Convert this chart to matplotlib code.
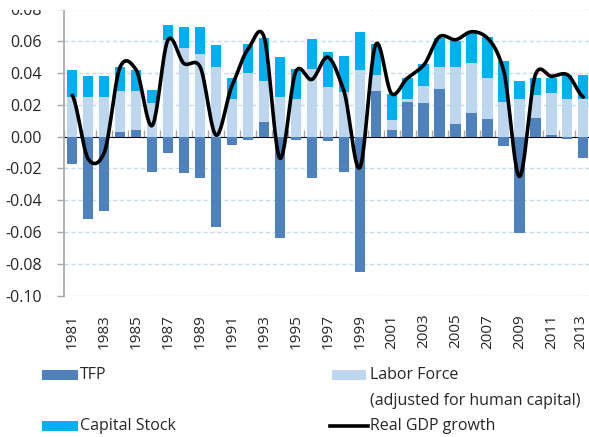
import numpy as np
import matplotlib
matplotlib.use('Agg')
import matplotlib.pyplot as plt
from matplotlib.patches import Rectangle
from matplotlib.lines import Line2D
from matplotlib.transforms import ScaledTranslation

plt.rcParams['font.family'] = ['Open Sans', 'DejaVu Sans']

# Datos
years = list(range(1981, 2014))
tfp = [-0.017, -0.052, -0.047, 0.003, 0.004, -0.022, -0.010, -0.023, -0.026, -0.057,
       -0.005, -0.002, 0.0095, -0.0636, -0.002, -0.026, -0.003, -0.022, -0.085, 0.029,
       0.004, 0.022, 0.021, 0.030, 0.0078, 0.0152, 0.011, -0.006, -0.0606, 0.0116,
       0.001, -0.0015, -0.0137]
labor = [0.025, 0.025, 0.025, 0.026, 0.025, 0.021, 0.061, 0.056, 0.052, 0.0436,
         0.024, 0.040, 0.0257, 0.025, 0.024, 0.0425, 0.031, 0.028, 0.042, 0.010,
         0.0068, 0.0017, 0.0106, 0.0137, 0.0358, 0.0313, 0.0258, 0.0221, 0.0238, 0.0147,
         0.0264, 0.0236, 0.0236]
capital = [0.017, 0.013, 0.013, 0.015, 0.013, 0.0085, 0.009, 0.013, 0.017, 0.0143,
           0.013, 0.0185, 0.027, 0.025, 0.0187, 0.019, 0.022, 0.023, 0.0236, 0.019,
           0.016, 0.013, 0.0141, 0.0185, 0.0164, 0.0188, 0.0259, 0.0253, 0.0114, 0.0105,
           0.0094, 0.0154, 0.0154]
gdp = [0.026, -0.014, -0.010, 0.044, 0.042, 0.007, 0.061, 0.046, 0.044, 0.001,
       0.032, 0.055, 0.063, -0.0135, 0.041, 0.036, 0.050, 0.029, -0.0195, 0.058,
       0.027, 0.037, 0.045, 0.063, 0.061, 0.066, 0.062, 0.042, -0.025, 0.039,
       0.038, 0.039, 0.025]

c_tfp = '#4F81BD'
c_lab = '#BDD7EE'
c_cap = '#00B0F0'
txt = '#262626'
fs = 11.5


def smooth(x, y, n=24, k=0.8):
    # curva suavizada tipo Catmull-Rom (como la linea suavizada de Excel)
    p = np.asarray(y, dtype=float)
    ext = np.concatenate([[p[0]], p, [p[-1]]])
    xs, ys = [], []
    for i in range(len(p) - 1):
        p0, p1, p2, p3 = ext[i:i + 4]
        t = np.linspace(0, 1, n, endpoint=False)
        m1 = k * (p2 - p0) / 2
        m2 = k * (p3 - p1) / 2
        h = ((2*t**3 - 3*t**2 + 1) * p1 + (t**3 - 2*t**2 + t) * m1
             + (-2*t**3 + 3*t**2) * p2 + (t**3 - t**2) * m2)
        xs.append(x[i] + t * (x[i + 1] - x[i]))
        ys.append(h)
    xs.append([x[-1]])
    ys.append([p[-1]])
    return np.concatenate(xs), np.concatenate(ys)


W, H = 589, 437
fig = plt.figure(figsize=(W / 100, H / 100), dpi=100)
ax = fig.add_axes([64.3 / W, (H - 295.7) / H, 527 / W, (295.7 - 9.5) / H])

x = np.arange(len(years))
tfp_a = np.array(tfp)
lab_a = np.array(labor)
cap_a = np.array(capital)
pos = np.clip(tfp_a, 0, None)
bw = 0.645

ax.bar(x, tfp_a, bw, color=c_tfp, zorder=2)
ax.bar(x, lab_a, bw, bottom=pos, color=c_lab, zorder=2)
ax.bar(x, cap_a, bw, bottom=pos + lab_a, color=c_cap, zorder=2)

sx, sy = smooth(x, gdp)
ax.plot(sx, sy, color='black', lw=2.6, zorder=4, solid_capstyle='round')

ax.set_xlim(-0.5, len(years) - 0.5)
ax.set_ylim(-0.10, 0.08)
yt = np.arange(-0.10, 0.081, 0.02)
ax.set_yticks(yt)
ax.set_yticklabels(['%.2f' % v for v in yt])
for v in yt:
    if abs(v) > 1e-9:
        ax.axhline(v, color='#C6D9EE', lw=1.0, ls=(0, (3, 2)), zorder=1)

ax.set_xticks(x[::2])
ax.set_xticklabels([str(y) for y in years[::2]], rotation=90)
ax.tick_params(axis='x', length=0, pad=13, labelsize=11, labelcolor=txt)
ax.tick_params(axis='y', length=5, width=1, color='#A6A6A6', pad=11,
               labelsize=fs, labelcolor=txt)
# la ultima etiqueta queda pegada al borde derecho
last = ax.get_xticklabels()[-1]
last.set_transform(last.get_transform() + ScaledTranslation(-3 / 100, 0, fig.dpi_scale_trans))

for s in ['top', 'right', 'bottom']:
    ax.spines[s].set_visible(False)
ax.spines['left'].set_color('#A6A6A6')
ax.spines['left'].set_linewidth(1.2)

# eje de categorias en cero
sec = ax.secondary_xaxis(0.10 / 0.18)
sec.set_xticks(np.arange(-0.5, len(years), 1.0))
sec.set_xticklabels([])
sec.tick_params(length=5, width=1, color='#A6A6A6', direction='out')
sec.spines['bottom'].set_color('#A6A6A6')
sec.spines['bottom'].set_linewidth(1.5)
sec.spines['bottom'].set_zorder(3)

# recorte superior como en la imagen original
fig.add_artist(Rectangle((0, 1 - 9.5 / H), 1, 9.5 / H, transform=fig.transFigure,
                         facecolor='white', edgecolor='none', zorder=20))


# leyenda
def fx(px):
    return px / W


def fy(py):
    return 1 - py / H


def patch(x0, x1, yc, color):
    fig.add_artist(Rectangle((fx(x0), fy(yc + 5)), fx(x1) - fx(x0), 10 / H,
                             transform=fig.transFigure, facecolor=color,
                             edgecolor='none'))


patch(41.5, 77.5, 375, c_tfp)
fig.text(fx(80), fy(375), 'TFP', ha='left', va='center', fontsize=fs, color=txt)
patch(332, 366, 375, c_lab)
fig.text(fx(370), fy(375), 'Labor Force', ha='left', va='center', fontsize=fs, color=txt)
fig.text(fx(370), fy(401), '(adjusted for human capital)', ha='left', va='center',
         fontsize=fs, color=txt)
patch(41.5, 77.5, 425.5, c_cap)
fig.text(fx(80), fy(425.5), 'Capital Stock', ha='left', va='center', fontsize=fs, color=txt)
fig.add_artist(Line2D([fx(330), fx(368)], [fy(425.5), fy(425.5)],
                      transform=fig.transFigure, color='black', lw=2.6))
fig.text(fx(370), fy(425.5), 'Real GDP growth', ha='left', va='center',
         fontsize=fs, color=txt)

fig.savefig('out.png', dpi=100)
